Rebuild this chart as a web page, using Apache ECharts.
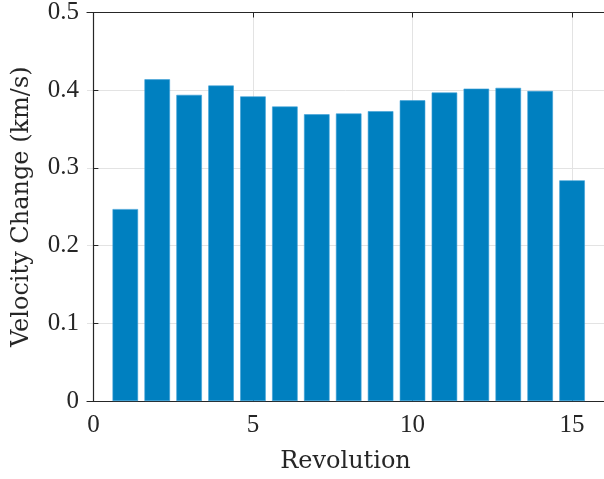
<!DOCTYPE html>
<html>
<head>
<meta charset="utf-8">
<script src="https://cdn.jsdelivr.net/npm/echarts@6/dist/echarts.min.js"></script>
<style>
html,body{margin:0;padding:0;background:#fff;}
#chart{width:604px;height:479px;}
</style>
</head>
<body>
<div id="chart"></div>
<script>
const revolutions = [1, 2, 3, 4, 5, 6, 7, 8, 9, 10, 11, 12, 13, 14, 15];
const velocityChange = [0.247, 0.414, 0.394, 0.406, 0.392, 0.379, 0.369, 0.370, 0.373, 0.387, 0.397, 0.402, 0.403, 0.399, 0.284];
const xTickValues = [0, 5, 10, 15];
const xLabel = 'Revolution';
const yLabel = 'Velocity Change (km/s)';

const axisColor = '#262626';
const gridColor = '#e3e3e3';
const tickFont = 'Liberation Serif';
const nameFont = 'DejaVu Serif';

const chart = echarts.init(document.getElementById('chart'), null, {renderer: 'canvas'});
chart.setOption({
  animation: false,
  backgroundColor: '#ffffff',
  grid: {left: 87, right: 0, top: 12, bottom: 78, containLabel: false},
  xAxis: [{
    type: 'value',
    position: 'bottom',
    min: -0.2,
    max: 16,
    name: xLabel,
    nameLocation: 'middle',
    nameGap: 49,
    nameTextStyle: {fontFamily: nameFont, fontSize: 24, color: axisColor},
    axisLine: {show: true, lineStyle: {color: axisColor, width: 1.2}},
    axisTick: {show: true, inside: true, length: 5, customValues: xTickValues, lineStyle: {color: axisColor}},
    axisLabel: {show: true, customValues: xTickValues, margin: 12, fontFamily: tickFont, fontSize: 25, color: axisColor},
    splitLine: {show: true, lineStyle: {color: gridColor, width: 1}}
  }, {
    type: 'value',
    position: 'top',
    min: -0.2,
    max: 16,
    axisLine: {show: true, lineStyle: {color: axisColor, width: 1.2}},
    axisTick: {show: true, inside: true, length: 5, customValues: xTickValues, lineStyle: {color: axisColor}},
    axisLabel: {show: false},
    splitLine: {show: false}
  }],
  yAxis: {
    type: 'value',
    min: 0,
    max: 0.5,
    interval: 0.1,
    name: yLabel,
    nameLocation: 'middle',
    nameGap: 53,
    nameTextStyle: {fontFamily: nameFont, fontSize: 24, color: axisColor},
    axisLine: {show: true, lineStyle: {color: axisColor, width: 1.2}},
    axisTick: {show: true, inside: true, length: 5, lineStyle: {color: axisColor}},
    axisLabel: {margin: 8, fontFamily: tickFont, fontSize: 25, color: axisColor},
    splitLine: {show: true, lineStyle: {color: gridColor, width: 1}}
  },
  series: [{
    type: 'bar',
    xAxisIndex: 0,
    barWidth: '80%',
    data: revolutions.map((r, i) => [r, velocityChange[i]]),
    itemStyle: {color: '#0080c0', borderColor: '#3d9fd6', borderWidth: 0.6},
    z: 2
  }]
});
</script>
</body>
</html>
